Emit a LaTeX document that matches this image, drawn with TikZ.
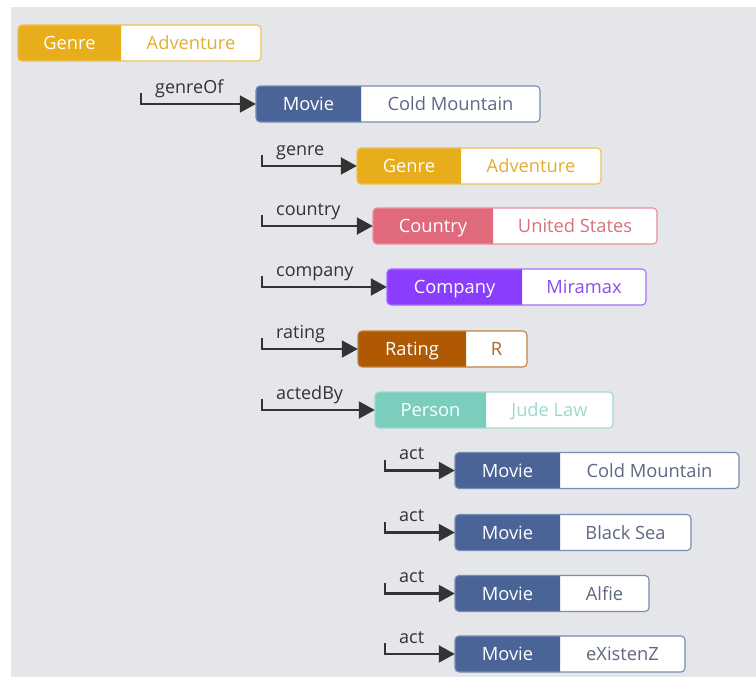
\documentclass[tikz,border=0pt]{standalone}
\usepackage{fontspec}
\setmainfont{Open Sans}
\usetikzlibrary{arrows.meta}
\definecolor{bg}{HTML}{E5E6EA}
\definecolor{genreC}{HTML}{E7AD1A}
\definecolor{genreV}{HTML}{E2AE34}
\definecolor{movieC}{HTML}{4B6497}
\definecolor{movieV}{HTML}{5F6883}
\definecolor{countryC}{HTML}{E06A7C}
\definecolor{countryV}{HTML}{D8707F}
\definecolor{companyC}{HTML}{8A3DFC}
\definecolor{companyV}{HTML}{8A4DF0}
\definecolor{ratingC}{HTML}{AF5A02}
\definecolor{ratingV}{HTML}{A66A2A}
\definecolor{personC}{HTML}{7BCDBE}
\definecolor{personV}{HTML}{9ED8CD}
\definecolor{ink}{HTML}{333333}
\tikzset{
  typetext/.style={text=white, inner sep=0pt, text height=13.5pt, text depth=0pt, font=\fontsize{18.3}{21}\selectfont},
  valtext/.style={inner sep=0pt, text height=13.5pt, text depth=0pt, font=\fontsize{18.3}{21}\selectfont},
  reltext/.style={text=ink, inner sep=0pt, anchor=base west, font=\fontsize{18}{21}\selectfont},
  relarrow/.style={draw=ink, line width=2.2pt, -{Triangle[length=16pt,width=17pt]}},
}
% #1 name, #2 x left, #3 x split, #4 x right, #5 y centre, #6 colour, #7 type, #8 value, #9 value colour
\newcommand\entbox[9]{%
  \fill[white, rounded corners=4pt] (#2,#5-18) rectangle (#4,#5+18);
  \fill[#6] (#3,#5-18) [rounded corners=4pt] -- (#2,#5-18) -- (#2,#5+18) [sharp corners] -- (#3,#5+18) -- cycle;
  \draw[#6!75!white, line width=1.1pt, rounded corners=4pt] (#2,#5-18) rectangle (#4,#5+18);
  \node[typetext, minimum width={(#3-#2)*1pt}, minimum height=36pt] (#1t) at ({(#2+#3)/2},#5) {#7};
  \node[valtext, text=#9, minimum width={(#4-#3)*1pt}, minimum height=36pt] (#1v) at ({(#3+#4)/2},#5) {#8};
}
% #1 name of target, #2 x of corner, #3 y centre, #4 label
\newcommand\relarr[4]{%
  \coordinate (#1s) at (#2,#3-11);
  \node[reltext] (#1l) at (#2+14,#3-11) {#4};
  \draw[relarrow] (#1s) |- (#1t.west);
}
\begin{document}
\begin{tikzpicture}[x=1pt,y=-1pt]
\useasboundingbox (0,0) rectangle (756,678);
\fill[bg] (11,7) rectangle (756,677);

\entbox{ga}{18}{121}{261}{43}{genreC}{Genre}{Adventure}{genreV}

\entbox{ma}{256}{361}{540}{104}{movieC}{Movie}{Cold Mountain}{movieV}
\relarr{ma}{141}{104}{genreOf}

\entbox{gb}{357}{461}{601}{166}{genreC}{Genre}{Adventure}{genreV}
\relarr{gb}{262}{166}{genre}

\entbox{co}{373}{493}{657}{226}{countryC}{Country}{United States}{countryV}
\relarr{co}{262}{226}{country}

\entbox{cp}{387}{522}{646}{287}{companyC}{Company}{Miramax}{companyV}
\relarr{cp}{262}{287}{company}

\entbox{ra}{358}{466}{527}{349}{ratingC}{Rating}{R}{ratingV}
\relarr{ra}{262}{349}{rating}

\entbox{pe}{375}{486}{613}{410}{personC}{Person}{Jude Law}{personV}
\relarr{pe}{262}{410}{actedBy}

\entbox{mb}{455}{560}{739}{470.5}{movieC}{Movie}{Cold Mountain}{movieV}
\relarr{mb}{385}{470.5}{act}

\entbox{mc}{455}{560}{691}{532.5}{movieC}{Movie}{Black Sea}{movieV}
\relarr{mc}{385}{532.5}{act}

\entbox{md}{455}{560}{649}{593.5}{movieC}{Movie}{Alfie}{movieV}
\relarr{md}{385}{593.5}{act}

\entbox{me}{455}{560}{685}{654}{movieC}{Movie}{eXistenZ}{movieV}
\relarr{me}{385}{654}{act}
\end{tikzpicture}
\end{document}
